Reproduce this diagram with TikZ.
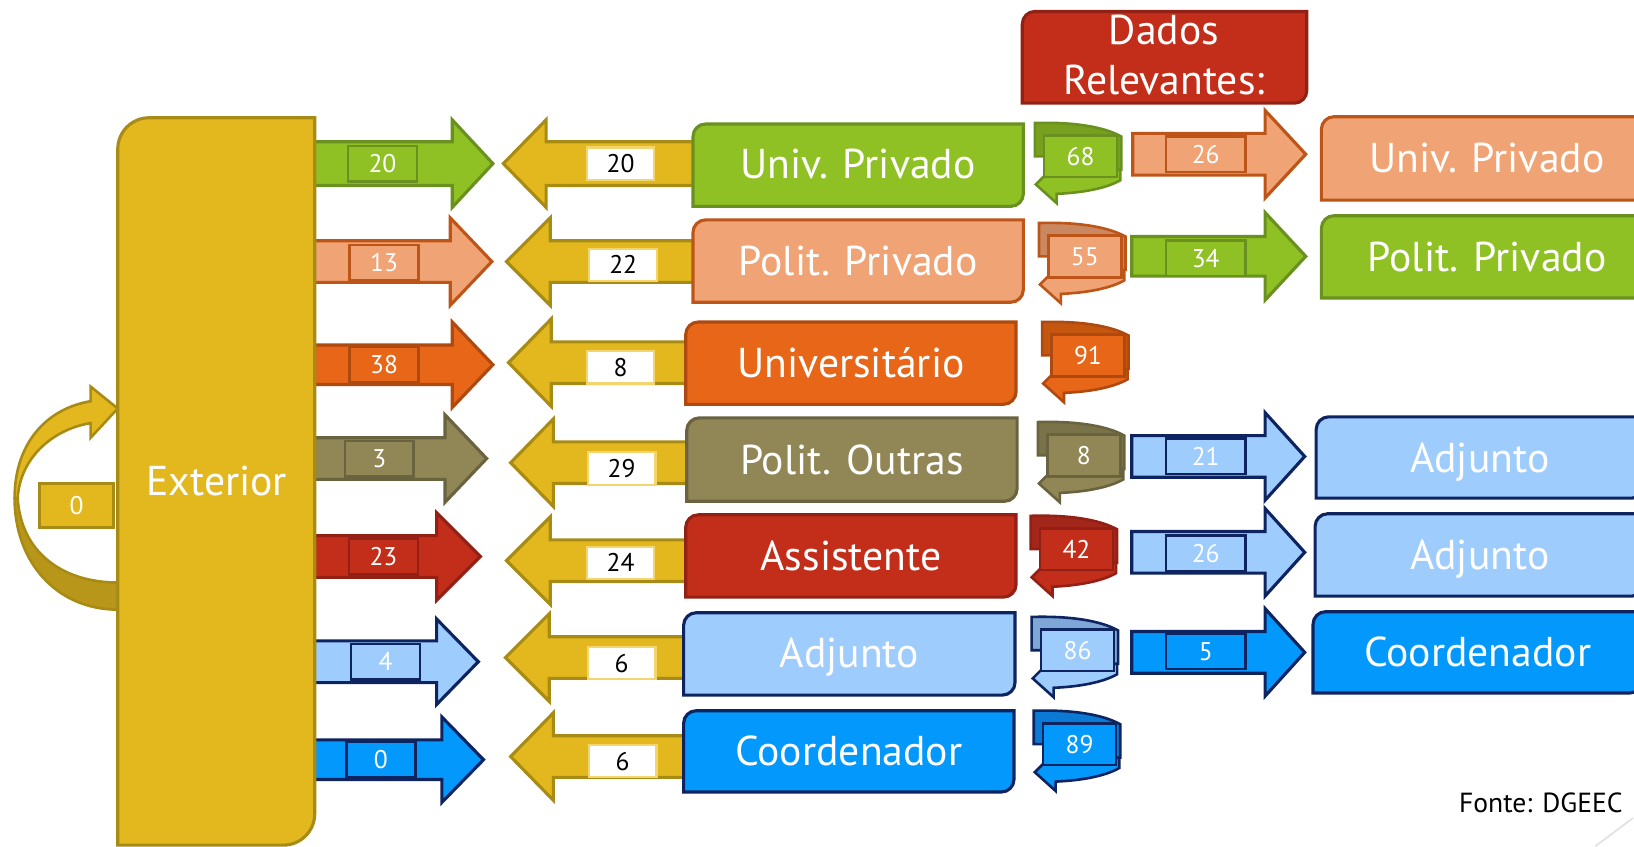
\documentclass[tikz,border=0pt]{standalone}
\usepackage{fontspec}
\setmainfont{PT Sans}
\definecolor{yel}{HTML}{E3B81F}
\definecolor{yelD}{HTML}{A88B14}
\definecolor{yelB}{HTML}{B8961A}
\definecolor{yelL}{HTML}{F3D570}
\definecolor{grn}{HTML}{8FC124}
\definecolor{grnD}{HTML}{6A9020}
\definecolor{grnB}{HTML}{76A01E}
\definecolor{sal}{HTML}{F0A374}
\definecolor{salD}{HTML}{BE5518}
\definecolor{salB}{HTML}{C98860}
\definecolor{org}{HTML}{E76618}
\definecolor{orgD}{HTML}{AE4A10}
\definecolor{orgB}{HTML}{C4560F}
\definecolor{olv}{HTML}{918656}
\definecolor{olvD}{HTML}{6A6340}
\definecolor{olvB}{HTML}{7A7248}
\definecolor{rd}{HTML}{C22E1A}
\definecolor{rdD}{HTML}{932014}
\definecolor{rdB}{HTML}{A2261A}
\definecolor{lb}{HTML}{9DCCFD}
\definecolor{nav}{HTML}{0E2460}
\definecolor{lbB}{HTML}{7EA6D6}
\definecolor{bb}{HTML}{0398FC}
\definecolor{bbB}{HTML}{0A7AD4}
\newcommand{\BigTxt}{\fontsize{40}{48}\selectfont}
\newcommand{\SmTxt}{\fontsize{24.5}{28}\selectfont}
\newcommand{\FnTxt}{\fontsize{26.5}{30}\selectfont}
% block arrow: style, x start, head base x, tip x, centre y, shaft half, head half
\newcommand{\RArr}[7]{%
  \draw[#1] (#2,#5-#6) -- (#3,#5-#6) -- (#3,#5-#7) -- (#4,#5) -- (#3,#5+#7) -- (#3,#5+#6) -- (#2,#5+#6) -- cycle;}
% box with rounded top-left and bottom-right corners: style, x1, y1, x2, y2
\newcommand{\SBox}[5]{%
  \draw[#1] (#2,#5) -- (#2,#3+12) .. controls (#2,#3+5.4) and (#2+5.4,#3) .. (#2+12,#3) -- (#4,#3) -- (#4,#5-12) .. controls (#4,#5-5.4) and (#4-5.4,#5) .. (#4-12,#5) -- cycle;}
% u-turn arrow: x0, y0, colour style, back fill, node name, label
\newcommand{\UTurn}[6]{%
  \begin{scope}[shift={(#1,#2)}]
    \draw[shp,line width=2.5pt,#3,fill=#4] (0,0) .. controls (35,-1) and (65,3) .. (83,13) -- (83,45) -- (10,45) -- (10,32) -- (0,32) -- cycle;
    \draw[shp,line width=2.5pt,#3] (82,45) -- (82,55) .. controls (68,63) and (45,67) .. (21,68) -- (21,77) -- (1,59) -- (11,49) -- cycle;
    \node[lbl,#3,minimum width=70pt,minimum height=40pt] (#5) at (44,32) {#6};
  \end{scope}}
\tikzset{
  shp/.style={line width=3pt,line join=miter},
  cG/.style={fill=grn,draw=grnD},
  cS/.style={fill=sal,draw=salD},
  cO/.style={fill=org,draw=orgD},
  cV/.style={fill=olv,draw=olvD},
  cR/.style={fill=rd,draw=rdD},
  cL/.style={fill=lb,draw=nav},
  cB/.style={fill=bb,draw=nav},
  cY/.style={fill=yel,draw=yelD},
  boxtxt/.style={text=white,font=\BigTxt,anchor=base,inner sep=0pt},
  lbl/.style={line width=2.5pt,minimum width=66pt,minimum height=34pt,inner sep=0pt,font=\SmTxt,text=white},
  ylbl/.style={fill=white,draw=yelL,line width=2pt,minimum width=65pt,minimum height=31pt,inner sep=0pt,font=\SmTxt,text=black},
}
\begin{document}
\begin{tikzpicture}[x=1pt,y=-1pt]
\useasboundingbox (0,0) rectangle (1568,812);

% self loop of Exterior
\draw[shp,line width=2.5pt,fill=yelB,draw=yelD] (14,478) .. controls (14,540) and (55,585) .. (113,585) -- (113,559) .. controls (60,559) and (20,530) .. (17,478) -- cycle;
\draw[shp,line width=2.5pt,cY] (14,478) .. controls (14,425) and (45,392) .. (87,385) -- (87,371) -- (113,392) -- (87,420) -- (87,406) .. controls (50,412) and (19,440) .. (17,478) -- cycle;
\node[lbl,cY,minimum width=71pt,minimum height=42pt] (loop) at (73.5,485) {0};

% arrows leaving Exterior
\RArr{shp,cG}{290}{434}{473}{157}{21}{42}
\RArr{shp,cS}{290}{432}{472}{251}{20}{42}
\RArr{shp,cO}{290}{434}{473}{350}{19}{41}
\RArr{shp,cV}{290}{427}{467}{440}{20}{42}
\RArr{shp,cR}{290}{419}{461}{534}{20}{42}
\RArr{shp,cL}{290}{419}{459}{635}{20}{41}
\RArr{shp,cB}{290}{424}{464}{729}{19}{41}

% Exterior
\draw[shp,cY] (113,811) -- (113,143) .. controls (113,126.5) and (126.5,113) .. (143,113) -- (302,113) -- (302,781) .. controls (302,797.5) and (288.5,811) .. (272,811) -- cycle;
\node[boxtxt] (ext) at (208,475) {Exterior};

\node[lbl,cG] (o1) at (367,157) {20};
\node[lbl,cS] (o2) at (368.5,252) {13};
\node[lbl,cO] (o3) at (368.5,350) {38};
\node[lbl,cV] (o4) at (364,440) {3};
\node[lbl,cR] (o5) at (368,534) {23};
\node[lbl,cL] (o6) at (370,635) {4};
\node[lbl,cB] (o7) at (365.5,729) {0};

% arrows entering, and middle boxes
\RArr{shp,cY}{671}{524}{483}{157}{21}{42}
\RArr{shp,cY}{671}{528}{486}{251}{20}{42}
\RArr{shp,cY}{664}{529}{488}{348}{20}{42}
\RArr{shp,cY}{665}{531}{490}{444}{20}{42}
\RArr{shp,cY}{664}{528}{486}{538}{20}{42}
\RArr{shp,cY}{662}{527}{485}{631}{20}{42}
\RArr{shp,cY}{662}{531}{490}{726}{20}{42}

\node[ylbl] (y1) at (595.5,157) {20};
\node[ylbl] (y2) at (598,254) {22};
\node[ylbl] (y3) at (595.5,352.5) {8};
\node[ylbl] (y4) at (596.5,449.5) {29};
\node[ylbl] (y5) at (595.5,540) {24};
\node[ylbl] (y6) at (596.5,636.5) {6};
\node[ylbl] (y7) at (597.5,730.5) {6};

\SBox{shp,cG}{665}{119}{982}{198}
\node[boxtxt] (m1) at (823.5,171) {Univ. Privado};
\SBox{shp,cS}{665}{211}{982}{290}
\node[boxtxt] (m2) at (823.5,264) {Polit. Privado};
\SBox{shp,cO}{658}{309}{975}{388}
\node[boxtxt] (m3) at (816.5,362) {Universitário};
\SBox{shp,cV}{659}{401}{976}{481}
\node[boxtxt] (m4) at (817.5,455) {Polit. Outras};
\SBox{shp,cR}{658}{494}{975}{573}
\node[boxtxt] (m5) at (816.5,547) {Assistente};
\SBox{shp,cL}{656}{588}{974}{667}
\node[boxtxt] (m6) at (815,641) {Adjunto};
\SBox{shp,cB}{656}{682}{973}{760}
\node[boxtxt] (m7) at (814.5,735) {Coordenador};

% u-turn arrows
\UTurn{993}{118}{cG}{grnB}{u1}{68}
\UTurn{997}{214}{cS}{salB}{u2}{55}
\UTurn{1000}{309}{cO}{orgB}{u3}{91}
\UTurn{996}{405}{cV}{olvB}{u4}{8}
\UTurn{989}{495}{cR}{rdB}{u5}{42}
\UTurn{990}{592}{cL}{lbB}{u6}{86}
\UTurn{992}{682}{cB}{bbB}{u7}{89}

% Dados Relevantes
\SBox{shp,cR}{981}{11}{1254}{99}
\node[boxtxt] (d1) at (1117,43) {Dados};
\node[boxtxt] (d2) at (1117,91) {Relevantes:};

% right arrows
\RArr{shp,cS}{1087}{1214}{1253}{148}{20}{42}
\RArr{shp,cG}{1086}{1214}{1253}{246}{19}{42}
\RArr{shp,cL}{1086}{1214}{1252}{438}{20}{42}
\RArr{shp,cL}{1086}{1214}{1252}{530}{20}{42}
\RArr{shp,cB}{1086}{1214}{1252}{626}{20}{42}
\node[lbl,cS,minimum width=76pt] (r1) at (1157,148) {26};
\node[lbl,cG,minimum width=76pt] (r2) at (1157,248) {34};
\node[lbl,cL,minimum width=76pt] (r4) at (1157,438) {21};
\node[lbl,cL,minimum width=76pt] (r5) at (1157,531) {26};
\node[lbl,cB,minimum width=76pt] (r6) at (1157,625) {5};

% right boxes
\SBox{shp,cS}{1268}{112}{1584}{192}
\node[boxtxt] (b1) at (1427,166) {Univ. Privado};
\SBox{shp,cG}{1268}{207}{1584}{286}
\node[boxtxt] (b2) at (1427,260.5) {Polit. Privado};
\SBox{shp,cL}{1263}{400}{1578}{478}
\node[boxtxt] (b4) at (1420,453) {Adjunto};
\SBox{shp,cL}{1262}{493}{1578}{572}
\node[boxtxt] (b5) at (1420,546.5) {Adjunto};
\SBox{shp,cB}{1260}{587}{1576}{665}
\node[boxtxt] (b6) at (1418,640) {Coordenador};

\node[font=\FnTxt,anchor=base west,inner sep=0pt] (src) at (1400,780) {Fonte: DGEEC};
\draw[gray!25,line width=1.5pt] (1531,812) -- (1567,785);
\end{tikzpicture}
\end{document}
